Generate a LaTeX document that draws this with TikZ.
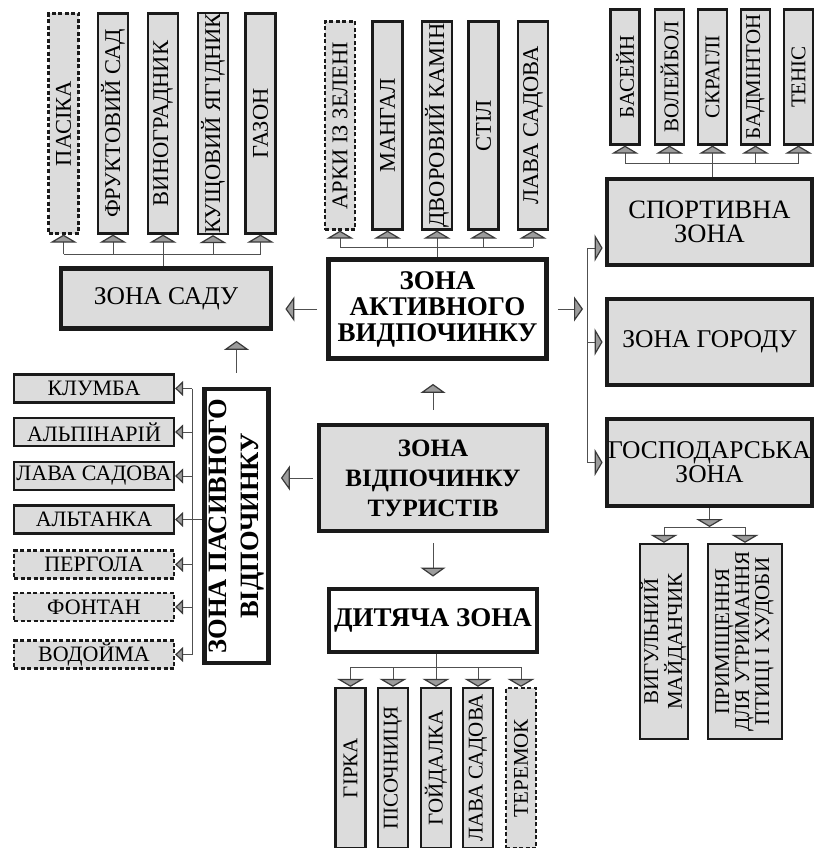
\documentclass[tikz,border=0pt]{standalone}
\usepackage{fontspec}
\setmainfont{Liberation Serif}
\usetikzlibrary{arrows.meta,calc}
\definecolor{boxgray}{HTML}{DCDCDC}
\definecolor{edgec}{HTML}{1A1A1A}
\definecolor{wirec}{HTML}{505050}
\definecolor{tipgray}{HTML}{9C9C9C}
\definecolor{tipedge}{HTML}{3A3A3A}
\newcommand\vrot[1]{\rotatebox{90}{#1}}
\newcommand\vrows[1]{\rotatebox{90}{\begin{tabular}{@{}c@{}}#1\end{tabular}}}
\tikzset{
  leaf/.style={draw=edgec, line width=2.3pt, fill=boxgray, inner sep=0pt, align=center,
    font=\fontsize{21pt}{20pt}\selectfont},
  bigleaf/.style={leaf, font=\fontsize{22.5pt}{20pt}\selectfont},
  dleaf/.style={leaf, dash pattern=on 4pt off 2.5pt},
  dbigleaf/.style={bigleaf, dash pattern=on 4pt off 2.5pt},
  hleaf/.style={leaf, minimum width=160pt, minimum height=28pt, font=\fontsize{22pt}{22pt}\selectfont},
  dhleaf/.style={hleaf, dash pattern=on 4pt off 2.5pt},
  zone/.style={draw=edgec, line width=4.8pt, fill=boxgray, inner sep=0pt, align=center,
    font=\fontsize{25.5pt}{24pt}\selectfont},
  bzone/.style={zone, fill=white, font=\bfseries\fontsize{27pt}{26pt}\selectfont},
  wire/.style={draw=wirec, line width=1pt},
  tipU/.style={wire, -{Triangle[width=27pt,length=8pt,fill=tipgray,color=tipedge,line width=1.2pt]}},
  tipS/.style={wire, -{Triangle[width=15pt,length=8pt,fill=tipgray,color=tipedge,line width=1.2pt]}},
  tipM/.style={wire, -{Triangle[width=25pt,length=9pt,fill=tipgray,color=tipedge,line width=1.2pt]}},
}
\begin{document}
\begin{tikzpicture}[x=1pt,y=-1pt]
\useasboundingbox (0,0) rectangle (816,848);

% ---------- garden zone ----------
\node[dbigleaf, minimum width=30pt, minimum height=220pt] (g1) at (63.5,123.5) {\vrot{ПАСІКА}};
\node[bigleaf,  minimum width=30pt, minimum height=220pt] (g2) at (113,123.5) {\vrot{ФРУКТОВИЙ САД}};
\node[bigleaf,  minimum width=30pt, minimum height=220pt] (g3) at (163,123.5) {\vrot{ВИНОГРАДНИК}};
\node[bigleaf,  minimum width=30pt, minimum height=220pt] (g4) at (213,123.5) {\vrot{КУЩОВИЙ ЯГІДНИК}};
\node[bigleaf,  minimum width=30pt, minimum height=220pt] (g5) at (260.5,123.5) {\vrot{ГАЗОН}};
\node[zone, minimum width=210pt, minimum height=60pt] (sadu) at (166,298.5) {ЗОНА САДУ};
\coordinate (gb) at (0,254);
\foreach \n in {g1,g2,g3,g4,g5} \draw[tipU] (\n.south |- gb) -- (\n.south);
\draw[wire] (g1.south |- gb) -- (g5.south |- gb);
\draw[wire] (sadu.north -| g3.south) -- (g3.south |- gb);

% ---------- active zone ----------
\node[dbigleaf, minimum width=30pt, minimum height=208pt] (a1) at (340,125.5) {\vrot{АРКИ ІЗ ЗЕЛЕНІ}};
\node[bigleaf,  minimum width=30pt, minimum height=208pt] (a2) at (387.5,125.5) {\vrot{МАНГАЛ}};
\node[bigleaf,  minimum width=30pt, minimum height=208pt] (a3) at (437,125.5) {\vrot{ДВОРОВИЙ КАМІН}};
\node[bigleaf,  minimum width=30pt, minimum height=208pt] (a4) at (483.5,125.5) {\vrot{СТІЛ}};
\node[bigleaf,  minimum width=30pt, minimum height=208pt] (a5) at (533,125.5) {\vrot{ЛАВА САДОВА}};
\node[bzone, minimum width=218pt, minimum height=99pt] (act) at (437.5,309) {ЗОНА\\АКТИВНОГО\\ВИДПОЧИНКУ};
\coordinate (ab) at (0,247);
\foreach \n in {a1,a2,a3,a4,a5} \draw[tipU] (\n.south |- ab) -- (\n.south);
\draw[wire] (a1.south |- ab) -- (a5.south |- ab);
\draw[wire] (act.north -| a3.south) -- (a3.south |- ab);

% ---------- sport zone ----------
\node[leaf, minimum width=29pt, minimum height=135pt] (s1) at (625,77) {\vrot{БАСЕЙН}};
\node[leaf, minimum width=29pt, minimum height=135pt] (s2) at (669.5,77) {\vrot{ВОЛЕЙБОЛ}};
\node[leaf, minimum width=29pt, minimum height=135pt] (s3) at (712.5,77) {\vrot{СКРАГЛІ}};
\node[leaf, minimum width=29pt, minimum height=135pt] (s4) at (755.5,77) {\vrot{БАДМІНТОН}};
\node[leaf, minimum width=29pt, minimum height=135pt] (s5) at (798.5,77) {\vrot{ТЕНІС}};
\node[zone, font=\fontsize{26.5pt}{24pt}\selectfont, minimum width=205pt, minimum height=86pt] (spor) at (709.5,222) {СПОРТИВНА\\ЗОНА};
\coordinate (sbus) at (0,163);
\foreach \n in {s1,s2,s3,s4,s5} \draw[tipU] (\n.south |- sbus) -- (\n.south);
\draw[wire] (s1.south |- sbus) -- (s5.south |- sbus);
\draw[wire] (spor.north -| s3.south) -- (s3.south |- sbus);

\node[zone, minimum width=205pt, minimum height=86pt] (gor) at (709.5,342) {ЗОНА ГОРОДУ};
\node[zone, minimum width=205pt, minimum height=87pt] (gosp) at (709.5,462.5) {ГОСПОДАРСЬКА\\ЗОНА};

% right bus
\coordinate (rb) at (587,248);
\draw[wire] (rb) -- (rb |- gosp.west);
\draw[tipU, shorten >=2pt] (rb) -- (rb -| spor.west);
\draw[tipU, shorten >=2pt] (rb |- gor.west) -- (gor.west);
\draw[tipU, shorten >=2pt] (rb |- gosp.west) -- (gosp.west);

% household children
\node[leaf, minimum width=48pt, minimum height=195pt] (h1) at (664,641.5) {\vrows{ВИГУЛЬНИЙ\\МАЙДАНЧИК}};
\node[leaf, minimum width=74pt, minimum height=195pt] (h2) at (745,641.5) {\vrows{ПРИМІЩЕННЯ\\ДЛЯ УТРИМАННЯ\\ПТИЦІ І ХУДОБИ}};
\coordinate (hb) at (0,527);
\draw[tipU] (gosp.south) -- (gosp.south |- hb);
\draw[wire] (h1.north |- hb) -- (h2.north |- hb);
\draw[tipU] (h1.north |- hb) -- (h1.north);
\draw[tipU] (h2.north |- hb) -- (h2.north);

% ---------- central zone ----------
\node[zone, font=\bfseries\fontsize{25pt}{30pt}\selectfont, minimum width=228pt, minimum height=106pt] (cen) at (433,478) {ЗОНА\\ВІДПОЧИНКУ\\ТУРИСТІВ};

% ---------- passive zone ----------
\node[bzone, font=\bfseries\fontsize{26.5pt}{32pt}\selectfont, minimum width=63pt, minimum height=274pt] (pas) at (236.5,526) {\vrows{ЗОНА ПАСИВНОГО\\ВІДПОЧИНКУ}};
\node[hleaf]  (p1) at (94,388.5) {КЛУМБА};
\node[hleaf]  (p2) at (94,432) {АЛЬПІНАРІЙ};
\node[hleaf]  (p3) at (94,476) {ЛАВА САДОВА};
\node[hleaf]  (p4) at (94,519.5) {АЛЬТАНКА};
\node[dhleaf] (p5) at (94,564.5) {ПЕРГОЛА};
\node[dhleaf] (p6) at (94,607) {ФОНТАН};
\node[dhleaf] (p7) at (94,654.5) {ВОДОЙМА};
\coordinate (pb) at (192,0);
\foreach \n in {p1,p2,p3,p4,p5,p6,p7} \draw[tipS] (\n.east -| pb) -- (\n.east);
\draw[wire] (p1.east -| pb) -- (p7.east -| pb);
\draw[wire] (pas.west |- p4.east) -- (p4.east -| pb);

% ---------- children zone ----------
\node[bzone, minimum width=208pt, minimum height=63pt] (dyt) at (433,620.5) {ДИТЯЧА ЗОНА};
\node[leaf,  minimum width=30pt, minimum height=160pt] (d1) at (350.5,768) {\vrot{ГІРКА}};
\node[leaf,  minimum width=30pt, minimum height=160pt] (d2) at (393,768) {\vrot{ПІСОЧНИЦЯ}};
\node[leaf,  minimum width=30pt, minimum height=160pt] (d3) at (436,768) {\vrot{ГОЙДАЛКА}};
\node[leaf,  minimum width=30pt, minimum height=160pt] (d4) at (478,768) {\vrot{ЛАВА САДОВА}};
\node[dleaf, minimum width=30pt, minimum height=160pt] (d5) at (521,768) {\vrot{ТЕРЕМОК}};
\coordinate (db) at (0,667);
\draw[wire] (dyt.south -| d3.north) -- (d3.north |- db);
\draw[wire] (d1.north |- db) -- (d5.north |- db);
\foreach \n in {d1,d2,d3,d4,d5} \draw[tipU] (\n.north |- db) -- (\n.north);

% ---------- main arrows ----------
\draw[tipM, shorten <=9pt, shorten >=12pt] (act.west) -- (act.west -| sadu.east);
\draw[tipM, shorten <=9pt, shorten >=4pt] (act.east) -- (act.east -| rb);
\draw[tipM, shorten <=13pt, shorten >=23pt] (cen.north) -- (cen.north |- act.south);
\draw[tipM, shorten <=10pt, shorten >=10pt] (cen.south) -- (dyt.north);
\draw[tipM, shorten <=4pt, shorten >=10pt] (cen.west) -- (cen.west -| pas.east);
\draw[tipM, shorten <=14pt, shorten >=10pt] (pas.north) -- (pas.north |- sadu.south);
\end{tikzpicture}
\end{document}
